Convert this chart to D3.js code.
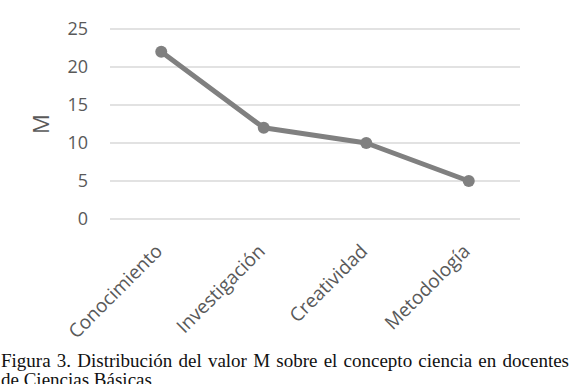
<!DOCTYPE html>
<html lang="es">
<head>
<meta charset="UTF-8">
<title>Figura 3</title>
<style>
  body { margin: 0; background: #fff; }
  svg { display: block; }
</style>
</head>
<body>
<svg id="svg"></svg>
<script src="https://d3js.org/d3.v7.min.js"></script>
<script>
// datos
const categorias = ["Conocimiento", "Investigación", "Creatividad", "Metodología"];
const valoresM = [22, 12, 10, 5];
const ticksY = [0, 5, 10, 15, 20, 25];
const tituloY = "M";
const leyenda = [
  "Figura 3. Distribución del valor M sobre el concepto ciencia en docentes",
  "de Ciencias Básicas"
];

const width = 571, height = 384;
const margin = {top: 29, left: 110, right: 51, bottom: 165};

const svg = d3.select("#svg").attr("width", width).attr("height", height);

const x = d3.scalePoint()
  .domain(categorias)
  .range([margin.left, width - margin.right])
  .padding(0.5);

const y = d3.scaleLinear()
  .domain([0, 25])
  .range([height - margin.bottom, margin.top]);

// rejilla
svg.append("g")
  .selectAll("line")
  .data(ticksY)
  .join("line")
  .attr("x1", margin.left)
  .attr("x2", width - margin.right)
  .attr("y1", d => y(d))
  .attr("y2", d => y(d))
  .attr("stroke", "#d9d9d9")
  .attr("stroke-width", 1.5);

// eje y
const ejeY = svg.append("g")
  .attr("transform", `translate(${margin.left - 20},0)`)
  .call(d3.axisLeft(y).tickValues(ticksY).tickSize(0).tickPadding(2));
ejeY.select(".domain").remove();
ejeY.selectAll("text")
  .attr("fill", "#595959")
  .style("font-family", "'Open Sans', sans-serif")
  .style("font-size", "18px");

svg.append("text")
  .attr("transform", `translate(49, ${y(12.5)}) rotate(-90)`)
  .attr("text-anchor", "middle")
  .attr("fill", "#595959")
  .style("font-family", "'Open Sans', sans-serif")
  .style("font-size", "22px")
  .text(tituloY);

// eje x (etiquetas inclinadas)
svg.append("g")
  .selectAll("text")
  .data(categorias)
  .join("text")
  .attr("transform", d => `translate(${x(d) - 7}, ${height - margin.bottom + 24}) rotate(-45)`)
  .attr("text-anchor", "end")
  .attr("dy", "0.7em")
  .attr("fill", "#595959")
  .style("font-family", "'Open Sans', sans-serif")
  .style("font-size", "19px")
  .text(d => d);

// línea
const linea = d3.line()
  .x((d, i) => x(categorias[i]))
  .y(d => y(d));

svg.append("path")
  .datum(valoresM)
  .attr("d", linea)
  .attr("fill", "none")
  .attr("stroke", "#808080")
  .attr("stroke-width", 5)
  .attr("stroke-linejoin", "round");

svg.append("g")
  .selectAll("circle")
  .data(valoresM)
  .join("circle")
  .attr("cx", (d, i) => x(categorias[i]))
  .attr("cy", d => y(d))
  .attr("r", 6)
  .attr("fill", "#808080");

// pie de figura, primera línea justificada
const pie = svg.append("g")
  .style("font-family", "'Liberation Serif', 'Times New Roman', serif")
  .style("font-size", "19px")
  .attr("fill", "#111");

const palabras = leyenda[0].split(" ");
const nodos = palabras.map(p => pie.append("text").attr("y", 367).text(p));
const anchos = nodos.map(n => n.node().getComputedTextLength());
const ancho = 568;
const hueco = (ancho - d3.sum(anchos)) / (palabras.length - 1);
let cx = 1;
nodos.forEach((n, i) => {
  n.attr("x", cx);
  cx += anchos[i] + hueco;
});

pie.append("text")
  .attr("x", 1)
  .attr("y", 386)
  .text(leyenda[1]);
</script>
</body>
</html>
